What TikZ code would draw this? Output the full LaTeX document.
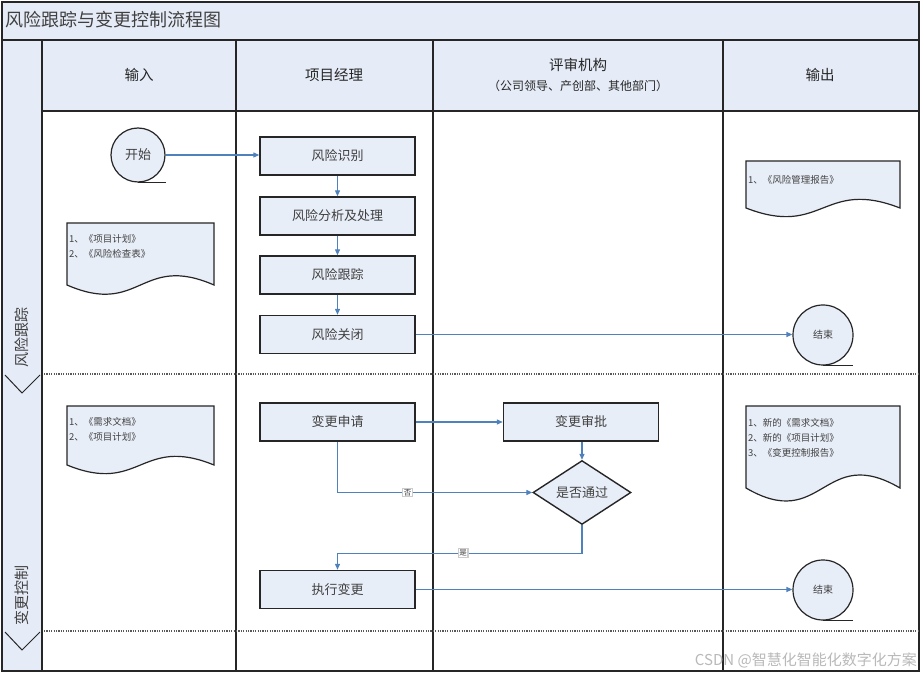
\documentclass[tikz,border=0pt]{standalone}
\usepackage{fontspec}
\newfontfamily\cjk{Noto Sans CJK SC}
\usetikzlibrary{shapes.geometric,arrows.meta,calc}
\definecolor{fillb}{HTML}{E8EEF8}
\definecolor{hdrb}{HTML}{E6ECF7}
\definecolor{connb}{HTML}{4F81BD}
\definecolor{framec}{HTML}{262626}
\definecolor{txtc}{HTML}{404040}
\newcommand{\docshape}[5]{%
  \draw[docsty] (#1,#2) -- (#3,#2) -- (#3,#4)
    .. controls ({(#1+#3)/2},{#4-#5}) and ({(#1+#3)/2},{#4+#5}) .. (#1,#4) -- cycle;}
\tikzset{
  frameline/.style={draw=framec,line width=1.6pt},
  procbox/.style={draw=framec,line width=1.4pt,fill=fillb,minimum width=155pt,minimum height=38pt,inner sep=0pt,font=\cjk\fontsize{13}{15}\selectfont,text=txtc},
  termc/.style={circle,draw=framec,line width=1.2pt,fill=fillb,inner sep=0pt,text=txtc},
  decbox/.style={diamond,draw=framec,line width=1.4pt,fill=fillb,minimum width=98pt,minimum height=59pt,inner sep=0pt,font=\cjk\fontsize{13}{15}\selectfont,text=txtc},
  docsty/.style={draw=framec,line width=1.2pt,fill=fillb},
  doctext/.style={anchor=north west,align=left,inner sep=0pt,font=\cjk\fontsize{9.5}{15}\selectfont,text=txtc},
  conn/.style={draw=connb,line width=1.2pt,-{Triangle[length=6pt,width=5pt]}},
  lbl/.style={draw=gray!40,fill=white,inner sep=1pt,font=\cjk\fontsize{7.5}{8}\selectfont,text=txtc},
  hdr/.style={font=\cjk\fontsize{14.5}{17}\selectfont,text=framec},
  sepline/.style={draw=gray!70!black,line width=1.2pt,dash pattern=on 1.2pt off 1.2pt},
  chev/.style={draw=framec,line width=1pt},
}
\begin{document}
\begin{tikzpicture}[x=1pt,y=-1pt]
\useasboundingbox (0,0) rectangle (922,676);
% backgrounds
\fill[white] (0,0) rectangle (922,676);
\fill[hdrb] (2,2) rectangle (919,40);
\fill[hdrb] (42,40) rectangle (919,111);
\fill[hdrb] (2,40) rectangle (42,671);
% frame
\draw[frameline] (2,2) rectangle (919,671);
\draw[frameline] (2,40) -- (919,40);
\draw[frameline] (42,111) -- (919,111);
\foreach \xx in {42,236,433,723} \draw[frameline] (\xx,40) -- (\xx,671);
% separators
\draw[sepline] (44,374) -- (918,374);
\draw[sepline] (44,631) -- (918,631);
% chevrons
\draw[chev] (5,375) -- (22,393) -- (40,375);
\draw[chev] (5,632) -- (22,650) -- (40,632);
% title and headers
\node[anchor=west,inner sep=0pt,font=\cjk\fontsize{18}{20}\selectfont,text=txtc] (title) at (5,20) {风险跟踪与变更控制流程图};
\node[hdr] (h1) at (139,75) {输入};
\node[hdr] (h2) at (334,75) {项目经理};
\node[hdr] (h3) at (578,65) {评审机构};
\node[font=\cjk\fontsize{12}{14}\selectfont,text=framec] (h3b) at (578,86) {（公司领导、产创部、其他部门）};
\node[hdr] (h4) at (820,75) {输出};
\node[rotate=90,font=\cjk\fontsize{15}{17}\selectfont,text=txtc] (b1) at (22,338) {风险跟踪};
\node[rotate=90,font=\cjk\fontsize{15}{17}\selectfont,text=txtc] (b2) at (22,595) {变更控制};
% documents
\docshape{67}{223}{214}{285}{32}
\node[doctext] (d1) at (69,234) {1、《项目计划》\\2、《风险检查表》};
\docshape{746}{161}{900}{208}{30}
\node[doctext] (d2) at (748,175) {1、《风险管理报告》};
\docshape{67}{406}{214}{465}{30}
\node[doctext] (d3) at (69,417) {1、《需求文档》\\2、《项目计划》};
\docshape{746}{406}{900}{488}{45}
\node[doctext] (d4) at (748,418) {1、新的《需求文档》\\2、新的《项目计划》\\3、《变更控制报告》};
% process nodes
\node[termc,minimum size=54pt,font=\cjk\fontsize{13}{15}\selectfont] (start) at (138,155) {开始};
\draw[framec,line width=1.2pt] (start.south) -- ++(28,0);
\node[procbox] (r1) at (337.5,156) {风险识别};
\node[procbox] (r2) at (337.5,216) {风险分析及处理};
\node[procbox] (r3) at (337.5,275) {风险跟踪};
\node[procbox] (r4) at (337.5,334.5) {风险关闭};
\node[termc,minimum size=60pt,font=\cjk\fontsize{10}{12}\selectfont] (end1) at (823,335) {结束};
\draw[framec,line width=1.2pt] (end1.south) -- ++(30,0);
\node[procbox] (c1) at (337.5,422) {变更申请};
\node[procbox] (c2) at (581,422) {变更审批};
\node[decbox] (dec) at (582,492.5) {是否通过};
\node[procbox] (c3) at (337.5,589.5) {执行变更};
\node[termc,minimum size=60pt,font=\cjk\fontsize{10}{12}\selectfont] (end2) at (823,590) {结束};
\draw[framec,line width=1.2pt] (end2.south) -- ++(30,0);
% connectors
\draw[conn] (start.east) -- (start.east -| r1.west);
\draw[conn] (r1) -- (r2);
\draw[conn] (r2) -- (r3);
\draw[conn] (r3) -- (r4);
\draw[conn] (r4.east) -- (r4.east -| end1.west);
\draw[conn] (c1) -- (c2);
\draw[conn] (c2.south -| dec.north) -- (dec.north);
\draw[conn] (c1.south) |- node[lbl,pos=0.68] {否} (dec.west);
\draw[conn] (dec.south) -- ++(0,28) -| node[lbl,pos=0.243] {是} (c3.north);
\draw[conn] (c3.east) -- (c3.east -| end2.west);
% watermark
\node[anchor=east,inner sep=0pt,font=\cjk\fontsize{15}{17}\selectfont,text=gray!55] (wm) at (917,660) {CSDN @智慧化智能化数字化方案};
\end{tikzpicture}
\end{document}
